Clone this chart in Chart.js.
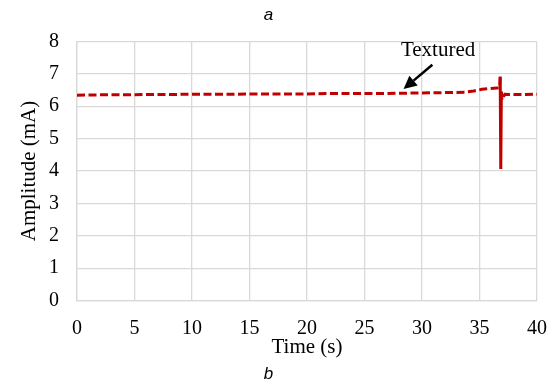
<!DOCTYPE html>
<html>
<head>
<meta charset="utf-8">
<script src="https://cdn.jsdelivr.net/npm/chart.js@4"></script>
<style>
html,body{margin:0;padding:0;background:#fff;}
#wrap{width:555px;height:388px;}
</style>
</head>
<body>
<div id="wrap"><canvas id="c" width="555" height="388"></canvas></div>
<script>
const timeS = [0, 2, 4, 6, 8, 10, 12, 14, 16, 18, 20, 22, 24, 26, 28, 30, 32, 33.7, 34.5, 35.2, 36, 36.5, 36.75, 36.8, 36.85, 36.9, 36.95, 37.2, 38, 39, 40];
const amplitude = [6.34, 6.35, 6.35, 6.36, 6.36, 6.37, 6.37, 6.37, 6.38, 6.38, 6.38, 6.39, 6.39, 6.39, 6.40, 6.41, 6.42, 6.43, 6.47, 6.52, 6.55, 6.56, 6.56, 6.92, 4.06, 6.45, 6.2, 6.37, 6.36, 6.36, 6.37];
const xTicks = [0, 5, 10, 15, 20, 25, 30, 35, 40];
const yTicks = [0, 1, 2, 3, 4, 5, 6, 7, 8];
const seriesLabel = 'Textured';
const annotText = { x: 31.4, y: 7.72, text: 'Textured' };
const arrowFrom = { x: 30.9, y: 7.28 };
const arrowTo = { x: 28.4, y: 6.53 };

const points = timeS.map((t, i) => ({ x: t, y: amplitude[i] }));

const annotationPlugin = {
  id: 'annot',
  afterDatasetsDraw(chart) {
    const { ctx, scales: { x, y } } = chart;
    ctx.save();
    ctx.font = '21px "Liberation Serif", "Times New Roman", serif';
    ctx.fillStyle = '#000';
    ctx.textAlign = 'center';
    ctx.textBaseline = 'middle';
    ctx.fillText(annotText.text, x.getPixelForValue(annotText.x), y.getPixelForValue(annotText.y));
    const x1 = x.getPixelForValue(arrowFrom.x), y1 = y.getPixelForValue(arrowFrom.y);
    const x2 = x.getPixelForValue(arrowTo.x), y2 = y.getPixelForValue(arrowTo.y);
    const ang = Math.atan2(y2 - y1, x2 - x1);
    const headLen = 13, headW = 6.5;
    const bx = x2 - headLen * Math.cos(ang), by = y2 - headLen * Math.sin(ang);
    ctx.strokeStyle = '#000';
    ctx.lineWidth = 2.5;
    ctx.beginPath();
    ctx.moveTo(x1, y1);
    ctx.lineTo(bx, by);
    ctx.stroke();
    ctx.beginPath();
    ctx.moveTo(x2, y2);
    ctx.lineTo(bx + headW * Math.sin(ang), by - headW * Math.cos(ang));
    ctx.lineTo(bx - headW * Math.sin(ang), by + headW * Math.cos(ang));
    ctx.closePath();
    ctx.fill();
    ctx.restore();
  }
};

const serif = '"Liberation Serif", "Times New Roman", serif';

new Chart(document.getElementById('c'), {
  type: 'line',
  data: {
    datasets: [{
      label: seriesLabel,
      data: points,
      borderColor: '#c00000',
      borderWidth: 3,
      borderDash: [8, 3.5],
      segment: {
        borderDash: ctx => (Math.abs(ctx.p1.y - ctx.p0.y) > 20 ? [] : [8, 3.5])
      },
      pointRadius: 0,
      tension: 0,
      fill: false
    }]
  },
  options: {
    responsive: false,
    animation: false,
    devicePixelRatio: 1,
    layout: { padding: { left: 0, right: 18, top: 0, bottom: 0 } },
    plugins: {
      legend: { display: false },
      tooltip: { enabled: false },
      title: {
        display: true,
        text: 'a',
        color: '#000',
        font: { family: '"Liberation Sans", Arial, sans-serif', size: 17, style: 'italic', weight: 'normal', lineHeight: 1.2 },
        padding: { top: 5, bottom: 16 }
      },
      subtitle: {
        display: true,
        position: 'bottom',
        text: 'b',
        color: '#000',
        font: { family: '"Liberation Sans", Arial, sans-serif', size: 17, style: 'italic', weight: 'normal', lineHeight: 1.2 },
        padding: { top: 4, bottom: 4 }
      }
    },
    scales: {
      x: {
        type: 'linear',
        min: 0,
        max: 40,
        afterBuildTicks(s) { s.ticks = xTicks.map(v => ({ value: v })); },
        afterFit(s) { s.height = 59; s.paddingRight = 0; s.paddingLeft = 0; },
        ticks: { color: '#000', font: { family: serif, size: 20 }, padding: 16, maxRotation: 0, autoSkip: false },
        grid: { color: '#d9d9d9', lineWidth: 1.3, drawTicks: false },
        border: { color: '#d9d9d9', width: 1.3 },
        title: { display: true, text: 'Time (s)', color: '#000', font: { family: serif, size: 21 }, padding: { top: 0, bottom: 0 } }
      },
      y: {
        type: 'linear',
        min: 0,
        max: 8,
        afterBuildTicks(s) { s.ticks = yTicks.map(v => ({ value: v })); },
        afterFit(s) { s.width = 77; },
        ticks: { color: '#000', font: { family: serif, size: 20 }, padding: 18 },
        grid: { color: '#d9d9d9', lineWidth: 1.3, drawTicks: false },
        border: { color: '#d9d9d9', width: 1.3 },
        title: { display: true, text: 'Amplitude (mA)', color: '#000', font: { family: serif, size: 21 }, padding: { top: 17, bottom: 0 } }
      }
    }
  },
  plugins: [annotationPlugin]
});
</script>
</body>
</html>
